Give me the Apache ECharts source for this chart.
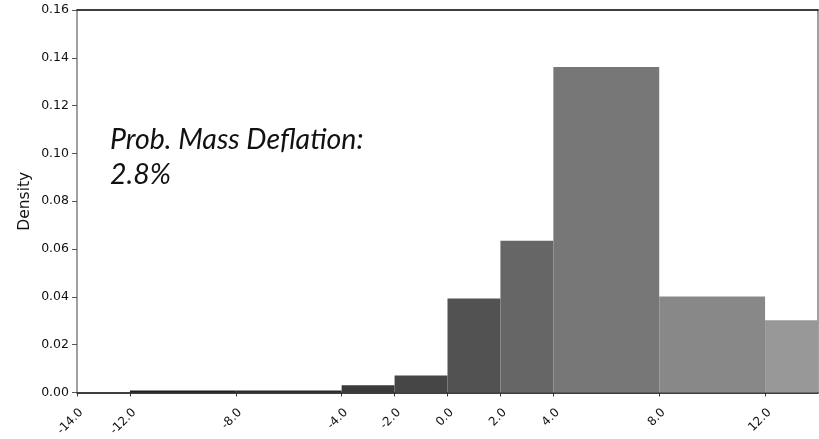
<!DOCTYPE html>
<html>
<head>
<meta charset="utf-8">
<script src="https://cdn.jsdelivr.net/npm/echarts@6/dist/echarts.min.js"></script>
<style>
  html, body { margin: 0; padding: 0; background: #fff; }
  #chart { width: 819px; height: 439px; }
</style>
</head>
<body>
<div id="chart"></div>
<script>
// histogram bins: left edge, right edge, density
var binStart = [-12, -8, -4, -2, 0, 2, 4, 8, 12];
var binEnd   = [-8, -4, -2, 0, 2, 4, 8, 12, 14];
var density  = [0.0008, 0.0008, 0.0030, 0.0071, 0.0393, 0.0635, 0.1362, 0.0401, 0.0302];
var binColors = ['#1e1e1e', '#2a2a2a', '#3a3a3a', '#464646', '#525252', '#666666', '#777777', '#888888', '#989898'];
var xTicks = [-14, -12, -8, -4, -2, 0, 2, 4, 8, 12];

var chart = echarts.init(document.getElementById('chart'));

var bins = binStart.map(function (s, i) { return [s, binEnd[i], density[i]]; });

var option = {
  animation: false,
  grid: { left: 77, right: 1, top: 10, bottom: 46 },
  xAxis: [{
    type: 'value', min: -14, max: 14,
    axisLine: { show: true, onZero: false, lineStyle: { color: '#000', width: 1.5 } },
    axisTick: { show: true, customValues: xTicks, length: 4, lineStyle: { color: '#333' } },
    axisLabel: {
      customValues: xTicks, rotate: 45, margin: 14,
      align: 'right', verticalAlign: 'top',
      fontFamily: 'DejaVu Sans', fontSize: 12, color: '#111',
      formatter: function (v) { return v.toFixed(1); }
    },
    splitLine: { show: false }
  }, {
    type: 'value', min: -14, max: 14, position: 'top',
    axisLine: { show: true, onZero: false, lineStyle: { color: '#000', width: 1.5 } },
    axisTick: { show: false }, axisLabel: { show: false }, splitLine: { show: false }
  }],
  yAxis: [{
    type: 'value', min: 0, max: 0.16, interval: 0.02,
    name: 'Density', nameLocation: 'middle', nameGap: 44, nameMoveOverlap: false,
    nameTextStyle: { fontFamily: 'DejaVu Sans', fontSize: 15.5, color: '#111' },
    axisLine: { show: true, onZero: false, lineStyle: { color: '#808080', width: 1.5 } },
    axisTick: { show: true, length: 5, lineStyle: { color: '#555' } },
    axisLabel: {
      fontFamily: 'DejaVu Sans', fontSize: 12.5, color: '#111', margin: 8,
      formatter: function (v) { return v.toFixed(2); }
    },
    splitLine: { show: false }
  }, {
    type: 'value', min: 0, max: 0.16, position: 'right',
    axisLine: { show: true, onZero: false, lineStyle: { color: '#808080', width: 1.5 } },
    axisTick: { show: false }, axisLabel: { show: false }, splitLine: { show: false }
  }],
  graphic: [{
    type: 'text', left: 110, top: 122,
    style: {
      text: 'Prob. Mass Deflation:\n2.8%',
      font: 'italic 28.5px Lato', fill: '#111', lineHeight: 35
    }
  }],
  series: [{
    type: 'custom',
    data: bins,
    renderItem: function (params, api) {
      var p0 = api.coord([api.value(0), api.value(2)]);
      var p1 = api.coord([api.value(1), 0]);
      return {
        type: 'rect',
        shape: { x: p0[0], y: p0[1], width: p1[0] - p0[0], height: p1[1] - p0[1] },
        style: { fill: binColors[params.dataIndex] }
      };
    },
    encode: { x: [0, 1], y: 2 }
  }]
};

chart.setOption(option);
</script>
</body>
</html>
